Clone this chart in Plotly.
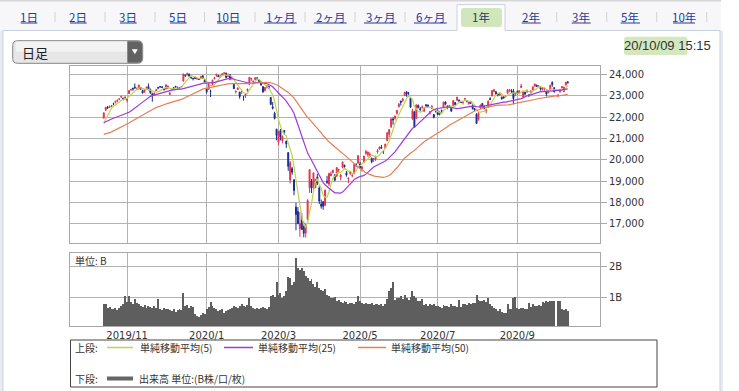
import datetime as dt
import plotly.graph_objects as go

W, H = 739, 391

# ---------------- data ----------------
HOLIDAYS = {"2019-10-22", "2019-11-04", "2019-12-31", "2020-01-01", "2020-01-02", "2020-01-03",
            "2020-01-13", "2020-02-11", "2020-02-24", "2020-03-20", "2020-04-29", "2020-05-04",
            "2020-05-05", "2020-05-06", "2020-07-23", "2020-07-24", "2020-08-10", "2020-09-21",
            "2020-09-22"}
START, END = dt.date(2019, 10, 15), dt.date(2020, 10, 9)

# closes before the first drawn day (used only for the moving averages)
prior_close = [21540, 21087, 20720, 20585, 20516, 20593, 20684, 20455, 20655, 20405, 20418, 20563, 20677,
               20618, 20628, 20711, 20261, 20456, 20479, 20460, 20704,
               20620, 20625, 20649, 21086, 21200, 21318, 21392, 21597, 21759, 21988, 22001, 21960, 22044,
               22079, 22098, 22020, 22048, 21878, 21755,
               21885, 21778, 21341, 21410, 21375, 21587, 21456, 21551, 21798]

open_ = [
    21960, 22330, 22480, 22470, 22500, 22640, 22700, 22770, 22850, 22950, 22900, 22900,
    22800, 23120, 23300, 23360, 23420, 23330, 23350, 23400, 23250, 23200, 23370, 23450, 23300, 23100, 23050, 23250, 23400, 23440, 23420, 23320,
    23340, 23450, 23080, 23290, 23390, 23460, 23370, 23400, 23440, 23700, 23980, 23990, 24030, 23880, 23820, 23880, 23790, 23790, 23810, 23950, 23760,
    23320, 23320, 23220, 23530, 23800, 23970, 23960, 23930, 24000, 24060, 24070, 23910, 24000, 23860, 23550, 23200, 23310, 23180, 23200,
    22980, 23010, 23250, 23550, 23800, 23670, 23760, 23850, 23750, 23650, 23440, 23250, 23420, 23460, 22930, 22480, 22180, 21440,
    20820, 21370, 20900, 21380, 20880, 20340, 19050, 19590, 19060, 17780, 17570, 16770, 17150, 16870, 16560, 17200, 18700, 19000, 18700, 18690, 19190,
    18680, 17930, 18030, 17860, 19000, 18860, 19250, 19400, 19280, 19230, 19520, 19180, 19640, 19750, 19400, 19100, 19350, 19250, 19350, 19790, 19850,
    19810, 19580, 19890, 20300, 20240, 20150, 20080, 20010, 20020, 20370, 20510, 20600, 20400, 20550, 20900, 21200, 21550, 21920,
    21950, 22180, 22500, 22760, 22780, 23020, 23200, 23130, 22900, 21930, 22250, 21940, 22560, 22400, 22470, 22290, 22590, 22570, 22200, 22410, 22130, 22320,
    22300, 22250, 22330, 22450, 22720, 22520, 22540, 22420, 22540, 22700, 22800, 22800, 22730, 22700, 22850, 22770, 22620, 22730, 22560, 22400, 22150,
    21900, 22450, 22650, 22480, 22300, 22470, 22880, 23000, 23210, 23200, 23120, 23050, 22950, 22960, 22960, 23130, 23240, 23250, 23240, 23110,
    23210, 23120, 23400, 22950, 23170, 23200, 23050, 23140, 23290, 23460, 23510, 23440, 23400, 23300, 23330, 23200, 23150, 23310, 23630, 23390,
    None, 23000, 23200, 23390, 23200, 23510, 23660]

high = [
    22220, 22480, 22530, 22560, 22580, 22680, 22770, 22830, 22900, 23010, 22920, 23000,
    22900, 23270, 23340, 23390, 23590, 23400, 23520, 23420, 23300, 23320, 23420, 23590, 23350, 23150, 23200, 23320, 23430, 23470, 23460, 23380,
    23530, 23490, 23200, 23360, 23420, 23470, 23430, 23420, 23460, 24060, 24000, 24090, 24050, 23900, 23860, 23900, 23850, 23810, 23930, 23960, 23780,
    23370, 23580, 23300, 23770, 23900, 24030, 24000, 23960, 24050, 24120, 24100, 24040, 24030, 23880, 23580, 23260, 23400, 23200, 23260,
    23000, 23100, 23350, 23900, 23850, 23730, 23870, 23880, 23770, 23680, 23460, 23420, 23500, 23480, 22950, 22720, 22260, 21460,
    21350, 21450, 21150, 21400, 20900, 20350, 19950, 19670, 19090, 17980, 17780, 17560, 17500, 17100, 16990, 18150, 19560, 19100, 19390, 19100, 19340,
    18760, 18130, 18060, 18600, 19250, 19400, 19450, 19550, 19330, 19650, 19560, 19330, 19920, 19770, 19470, 19180, 19460, 19330, 19810, 19840, 20230,
    19900, 19720, 20180, 20460, 20390, 20350, 20100, 20090, 20200, 20500, 20630, 20700, 20450, 20750, 21300, 21450, 21970, 22000,
    22070, 22340, 22670, 22780, 22900, 23180, 23200, 23190, 22930, 22400, 22300, 22600, 22600, 22480, 22560, 22450, 22620, 22600, 22290, 22580, 22150, 22400,
    22370, 22260, 22350, 22730, 22750, 22560, 22580, 22450, 22800, 22710, 22960, 22840, 22770, 22730, 22900, 22800, 22740, 22760, 22600, 22440, 22180,
    22240, 22600, 22670, 22560, 22380, 22790, 22940, 23280, 23340, 23230, 23130, 23140, 22970, 23000, 23020, 23320, 23310, 23320, 23330, 23180,
    23260, 23270, 23580, 23240, 23190, 23300, 23080, 23260, 23470, 23580, 23530, 23500, 23410, 23420, 23400, 23250, 23220, 23520, 23690, 23420,
    None, 23100, 23330, 23470, 23430, 23660, 23700]

low = [
    21950, 22300, 22390, 22440, 22480, 22560, 22650, 22710, 22820, 22900, 22800, 22830,
    22700, 23100, 23230, 23250, 23330, 23270, 23300, 23300, 23120, 23150, 23300, 23290, 23100, 22730, 23020, 23230, 23320, 23380, 23370, 23270,
    23300, 23350, 23040, 23250, 23320, 23400, 23330, 23330, 23400, 23680, 23900, 23960, 23900, 23800, 23730, 23800, 23790, 23760, 23800, 23800, 23650,
    23110, 23290, 22950, 23500, 23790, 23900, 23880, 23850, 23950, 24050, 23850, 23900, 23740, 23780, 23340, 23120, 23280, 22870, 23100,
    22780, 22910, 23200, 23500, 23700, 23620, 23740, 23740, 23650, 23480, 23150, 23220, 23350, 23340, 22570, 22370, 21900, 20920,
    20700, 20910, 20770, 21200, 20560, 19480, 18890, 19300, 18340, 16690, 16980, 16380, 16720, 16360, 16350, 17150, 18450, 18440, 18500, 18680, 18810,
    17920, 17710, 17650, 17850, 18870, 18770, 19240, 19360, 18990, 19210, 19360, 19040, 19600, 19560, 19210, 18900, 19300, 19180, 19330, 19660, 19820,
    19580, 19450, 19840, 20240, 20150, 20100, 19840, 19900, 19950, 20300, 20480, 20520, 20280, 20540, 20880, 21050, 21500, 21650,
    21880, 22120, 22460, 22550, 22720, 23000, 22960, 23050, 22450, 21880, 21530, 21930, 22420, 22300, 22400, 22240, 22450, 22450, 22120, 22380, 21950, 22220,
    22110, 22090, 22220, 22440, 22560, 22380, 22450, 22250, 22530, 22560, 22780, 22720, 22680, 22600, 22790, 22700, 22610, 22640, 22370, 22290, 21700,
    21840, 22390, 22450, 22370, 22180, 22450, 22800, 22990, 23200, 23060, 22980, 23020, 22820, 22870, 22940, 23110, 23200, 23130, 22600, 22990,
    23070, 23080, 23380, 22950, 23050, 23150, 22950, 23120, 23260, 23440, 23420, 23400, 23250, 23260, 23250, 22980, 23130, 23290, 23430, 23180,
    None, 22950, 23150, 23350, 23190, 23500, 23600]

close = [
    22207, 22472, 22452, 22492, 22549, 22625, 22750, 22799, 22867, 22974, 22843, 22927,
    22850, 23251, 23303, 23330, 23391, 23331, 23520, 23319, 23141, 23303, 23416, 23292, 23148, 23038, 23112, 23292, 23373, 23437, 23409, 23293,
    23529, 23379, 23135, 23300, 23354, 23430, 23410, 23391, 23424, 24023, 23952, 24066, 23934, 23864, 23816, 23821, 23830, 23782, 23924, 23837, 23656,
    23204, 23575, 23204, 23739, 23850, 24025, 23916, 23933, 24041, 24083, 23864, 24031, 23795, 23827, 23343, 23216, 23379, 22977, 23205,
    22972, 23084, 23320, 23873, 23827, 23686, 23861, 23828, 23688, 23523, 23194, 23400, 23479, 23386, 22605, 22426, 21948, 21142,
    21344, 21082, 21100, 21329, 20749, 19698, 19867, 19416, 18559, 17431, 17002, 17011, 16726, 16552, 16887, 18092, 19546, 18664, 19389, 19084, 18917,
    18065, 17819, 17820, 18576, 18950, 19353, 19345, 19498, 19043, 19638, 19551, 19290, 19897, 19669, 19281, 19137, 19429, 19262, 19783, 19771, 20194,
    19619, 19674, 20179, 20390, 20366, 20267, 19914, 20037, 20133, 20433, 20595, 20552, 20388, 20741, 21271, 21419, 21916, 21877,
    22062, 22325, 22613, 22695, 22863, 23178, 23091, 23124, 22473, 22305, 21530, 22582, 22455, 22355, 22478, 22437, 22549, 22534, 22260, 22512, 21995, 22288,
    22122, 22145, 22306, 22714, 22614, 22438, 22529, 22291, 22785, 22587, 22945, 22770, 22696, 22717, 22884, 22751, 22715, 22657, 22397, 22339, 21710,
    22195, 22573, 22514, 22418, 22329, 22750, 22843, 23249, 23289, 23097, 23051, 23110, 22880, 22920, 22985, 23296, 23290, 23208, 22882, 23140,
    23138, 23247, 23465, 23205, 23089, 23274, 23032, 23235, 23406, 23559, 23454, 23475, 23319, 23360, 23346, 23087, 23204, 23511, 23539, 23185,
    None, 23029, 23312, 23433, 23422, 23647, 23619]

volume_b = [
    0.80, 0.78, 0.66, 0.70, 0.62, 0.64, 0.68, 0.60, 0.66, 0.72, 0.80, 1.05,
    0.85, 1.05, 0.85, 0.80, 0.95, 0.82, 0.78, 0.72, 0.70, 0.75, 0.68, 0.72, 0.70, 0.66, 0.74, 0.68, 0.95, 0.62, 0.60, 0.66,
    0.62, 0.64, 0.60, 0.58, 0.62, 0.55, 0.60, 0.62, 0.60, 1.16, 0.72, 0.75, 0.68, 0.72, 0.70, 0.48, 0.42, 0.38, 0.45, 0.50, 0.48,
    0.62, 0.70, 0.85, 0.72, 0.66, 0.62, 0.58, 0.60, 0.64, 0.52, 0.58, 0.60, 0.62, 0.68, 0.72, 0.70, 0.68, 0.74, 0.80,
    0.72, 0.70, 0.76, 0.98, 0.74, 0.66, 0.62, 0.68, 0.64, 0.66, 0.70, 0.68, 0.62, 0.70, 1.05, 1.08, 1.02, 1.50,
    1.10, 1.14, 1.00, 1.05, 1.20, 1.68, 1.65, 1.40, 1.52, 2.27, 1.96, 1.90, 1.96, 1.85, 1.70, 1.65, 1.55, 1.60, 1.45, 1.35, 1.50,
    1.30, 1.25, 1.20, 1.28, 1.10, 1.05, 1.00, 0.98, 1.02, 0.90, 0.92, 0.85, 0.82, 0.88, 0.86, 0.80, 0.84, 0.82, 0.78, 0.86, 1.05,
    0.88, 0.82, 0.80, 0.84, 0.78, 0.80, 0.82, 0.76, 0.80, 0.78, 0.76, 0.80, 0.74, 0.78, 0.96, 1.20, 1.30, 1.50,
    0.92, 1.00, 0.98, 1.05, 0.95, 1.10, 0.98, 0.92, 1.02, 1.22, 1.05, 0.98, 0.90, 0.88, 0.95, 0.76, 0.78, 0.74, 0.80, 0.76, 0.78, 0.74,
    0.72, 0.70, 0.66, 0.76, 0.72, 0.74, 0.70, 0.80, 0.74, 0.72, 0.70, 0.92, 0.70, 0.78, 0.80, 0.76, 0.82, 0.80, 0.84, 0.82, 1.08,
    0.92, 0.90, 0.88, 0.92, 0.85, 1.00, 0.78, 0.72, 0.66, 0.62, 0.58, 0.62, 0.55, 0.52, 0.50, 0.78, 0.62, 0.64, 1.00, 1.02,
    0.68, 0.64, 0.66, 0.68, 0.62, 0.64, 0.84, 0.70, 0.78, 0.74, 0.72, 0.76, 0.74, 0.86, 0.84, 0.88, 0.86, 0.90, 0.88, 0.90,
    None, 0.90, 0.88, 0.62, 0.60, 0.62, 0.58]

MA_PERIODS = [5, 25, 50]
MA_LABELS = ["単純移動平均(5)", "単純移動平均(25)", "単純移動平均(50)"]

# ---------------- derived ----------------
dates = []
d = START
while d <= END:
    if d.weekday() < 5 and d.isoformat() not in HOLIDAYS:
        dates.append(d)
    d += dt.timedelta(days=1)
n = len(dates)
assert all(len(a) == n for a in (open_, high, low, close, volume_b)), (n, len(open_), len(high), len(low), len(close), len(volume_b))
idx = list(range(n))

tick_idx, tick_txt = [], []
for i, dd in enumerate(dates):
    if i > 0 and dd.month != dates[i - 1].month and dd.month % 2 == 1:
        tick_idx.append(i)
        tick_txt.append(f"{dd.year}/{dd.month}")

hist = list(prior_close)
ma = {p: [] for p in MA_PERIODS}
for c in close:
    if c is None:
        for p in MA_PERIODS:
            ma[p].append(None)
        continue
    hist.append(c)
    for p in MA_PERIODS:
        ma[p].append(sum(hist[-p:]) / p)

valid = [i for i in idx if close[i] is not None]

# ---------------- styling ----------------
RED, BLUE = "#e5334f", "#1b2c8c"
MA_COLORS = ["#bcd44a", "#9d3bdb", "#e57f55"]
GRID, BORDER = "#b2b2b2", "#a8a8a8"
NUM = "DejaVu Sans"
JP = "Noto Sans CJK JP"
TF = dict(family=NUM, size=10, color="#333333")


def X(p):
    return p / W


def Y(p):
    return 1 - p / H


fig = go.Figure()
fig.add_trace(go.Candlestick(
    x=[idx[i] for i in valid], open=[open_[i] for i in valid], high=[high[i] for i in valid],
    low=[low[i] for i in valid], close=[close[i] for i in valid],
    increasing=dict(line=dict(color=RED, width=1), fillcolor=RED),
    decreasing=dict(line=dict(color=BLUE, width=1), fillcolor=BLUE),
    xaxis="x", yaxis="y", hoverinfo="skip"))
for p, col in zip(MA_PERIODS, MA_COLORS):
    fig.add_trace(go.Scatter(x=idx, y=ma[p], mode="lines", connectgaps=True,
                             line=dict(color=col, width=1.2), xaxis="x", yaxis="y", hoverinfo="skip"))
fig.add_trace(go.Bar(x=idx, y=[v if v is not None else 0 for v in volume_b],
                     marker=dict(color="#5e5e5e", line=dict(width=0)),
                     xaxis="x2", yaxis="y2", hoverinfo="skip"))

XR = [-17.4, 255.6]
common_x = dict(range=XR, tickvals=tick_idx, showgrid=True, gridcolor=GRID, gridwidth=1, zeroline=False,
                showline=True, linecolor=BORDER, linewidth=1, mirror=True, ticks="", fixedrange=True)

shapes, ann = [], []


def rect(x0, y0, x1, y1, fill=None, line=None, lw=1):
    shapes.append(dict(type="rect", xref="paper", yref="paper", x0=X(x0), x1=X(x1), y0=Y(y1), y1=Y(y0),
                       fillcolor=fill or "rgba(0,0,0,0)",
                       line=dict(color=line or "rgba(0,0,0,0)", width=lw if line else 0), layer="above"))


def seg(x0, y0, x1, y1, color, w=1):
    shapes.append(dict(type="line", xref="paper", yref="paper", x0=X(x0), x1=X(x1), y0=Y(y0), y1=Y(y1),
                       line=dict(color=color, width=w), layer="above"))


def rpath(x0, y0, x1, y1, r, rl=True, rr=True, fill="#eee", line=None):
    def P(x, y):
        return f"{X(x):.5f},{Y(y):.5f}"
    a = r if rl else 0
    b = r if rr else 0
    s = f"M {P(x0 + a, y0)} L {P(x1 - b, y0)} "
    if b:
        s += f"Q {P(x1, y0)} {P(x1, y0 + b)} "
    s += f"L {P(x1, y1 - b)} "
    if b:
        s += f"Q {P(x1, y1)} {P(x1 - b, y1)} "
    s += f"L {P(x0 + a, y1)} "
    if a:
        s += f"Q {P(x0, y1)} {P(x0, y1 - a)} "
    s += f"L {P(x0, y0 + a)} "
    if a:
        s += f"Q {P(x0, y0)} {P(x0 + a, y0)} "
    s += "Z"
    shapes.append(dict(type="path", xref="paper", yref="paper", path=s, fillcolor=fill,
                       line=dict(color=line or "rgba(0,0,0,0)", width=1 if line else 0), layer="above"))


def text(x, y, s, size=11, color="#333333", anchor="left", family=JP):
    ann.append(dict(xref="paper", yref="paper", x=X(x), y=Y(y), text=s, showarrow=False, xanchor=anchor,
                    yanchor="middle", font=dict(size=size, color=color, family=family), borderpad=0))


# page frame / tab bar
rect(0, 1, 721, 30.5, fill="#f7f7f9")
seg(0, 0.8, 721, 0.8, "#c4c4c4")
rect(0, 30.5, 3, 391, fill="#e7ebf2")
rect(720, 30.5, 723, 391, fill="#e7ebf2")
seg(3, 30.5, 3, 391, "#c9d0dc")
seg(720, 30.5, 720, 391, "#c9d0dc")
seg(3, 30.5, 457, 30.5, "#c9d0dc")
seg(505, 30.5, 720, 30.5, "#c9d0dc")
rect(457, 4.7, 505, 31.5, fill="white")
seg(457, 4.7, 505, 4.7, "#c9d0dc")
seg(457, 4.7, 457, 30.5, "#c9d0dc")
seg(505, 4.7, 505, 30.5, "#c9d0dc")
rpath(461, 8, 502, 27, 3, fill="#d2e6bc")

TAB_LABELS = ["1日", "2日", "3日", "5日", "10日", "1ヶ月", "2ヶ月", "3ヶ月", "6ヶ月", "1年", "2年", "3年", "5年", "10年"]
tab_spans = [(20.7, 37.3), (70, 86.7), (120, 136.7), (170, 186.7), (217, 240), (264, 296.7), (314, 346.7),
             (364, 396.7), (414, 446.7), (472.7, 490), (521.7, 540.7), (571.7, 590.7), (620.7, 640), (673, 695)]
LINK = "#24399a"
for lab, (a, b) in zip(TAB_LABELS, tab_spans):
    active = lab == "1年"
    text((a + b) / 2, 16.5, lab, size=11.5, color="#22386a" if active else LINK, anchor="center")
    if not active:
        seg(a, 23, b, 23, LINK, 1)
for sx in [55, 105, 155, 204.5, 255, 305, 355, 405, 556.7, 606.7, 656.7, 706.7]:
    seg(sx, 12, sx, 22, "#d2d2d2")

# dropdown
rpath(12.7, 40.7, 142.7, 63.3, 5, fill="#e6e6e6", line="#858585")
rect(16, 41.6, 127, 51.5, fill="#f3f3f3")
rpath(127.3, 41.2, 142.2, 62.8, 4.5, rl=False, fill="#626262")
shapes.append(dict(type="path", xref="paper", yref="paper",
                   path=f"M {X(131.8):.5f},{Y(49.2):.5f} L {X(137.8):.5f},{Y(49.2):.5f} L {X(134.8):.5f},{Y(54.2):.5f} Z",
                   fillcolor="white", line=dict(width=0), layer="above"))
text(21, 52, "日足", size=13, color="#222222")

# timestamp
rpath(624, 36.7, 687.5, 55, 3, fill="#d4e8bf")
text(712, 45.5, "20/10/09 15:15", size=13, color="#333333", anchor="right", family="Liberation Sans")

# volume unit
text(74, 260.5, "単位: B", size=10, color="#333333")

# legend box
rect(70.5, 340, 657, 387, fill="white", line="#444444", lw=1)
text(74, 347.5, "上段:", size=10)
lx = [(107, 133, 139), (224, 253, 257), (358, 386, 390)]
for (a, b, tx), col, lab in zip(lx, MA_COLORS, MA_LABELS):
    seg(a, 347.5, b, 347.5, col, 1.5)
    text(tx, 347.5, lab, size=10)
text(74, 378.5, "下段:", size=10)
seg(107, 378.5, 133, 378.5, "#666666", 4)
text(138, 378.5, "出来高 単位:(B株/口/枚)", size=10)

fig.update_layout(
    width=W, height=H, margin=dict(l=0, r=0, t=0, b=0), autosize=False,
    paper_bgcolor="white", plot_bgcolor="white", showlegend=False, bargap=0,
    hovermode=False, dragmode=False, shapes=shapes, annotations=ann,
    xaxis=dict(domain=[X(70), X(600)], anchor="y", showticklabels=False,
               rangeslider=dict(visible=False), **common_x),
    yaxis=dict(domain=[Y(242.7), Y(66)], anchor="x", range=[16108, 24409], side="right",
               tickvals=list(range(17000, 24001, 1000)), tickformat=",d", ticks="outside", ticklen=6,
               tickcolor=BORDER, showgrid=True, gridcolor=GRID, zeroline=False, showline=True,
               linecolor=BORDER, mirror=True, tickfont=TF, fixedrange=True),
    xaxis2=dict(domain=[X(70), X(600)], anchor="y2", ticktext=tick_txt, tickfont=TF, showticklabels=True,
                **common_x),
    yaxis2=dict(domain=[Y(326), Y(252.7)], anchor="x2", range=[0.087, 2.45], side="right",
                tickvals=[1, 2], ticktext=["1B", "2B"], ticks="outside", ticklen=6, tickcolor=BORDER,
                showgrid=True, gridcolor=GRID, zeroline=False, showline=True, linecolor=BORDER,
                mirror=True, tickfont=TF, fixedrange=True),
)

fig.write_html("out.html", config={"displayModeBar": False, "staticPlot": True},
               post_script="document.body.style.margin='0';document.body.style.overflow='hidden';")
